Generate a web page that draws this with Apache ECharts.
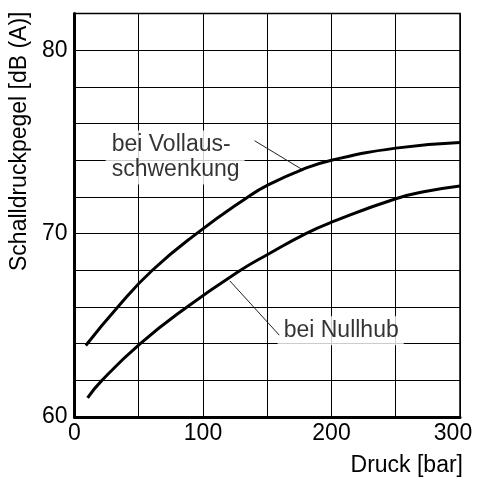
<!DOCTYPE html>
<html>
<head>
<meta charset="utf-8">
<script src="https://cdn.jsdelivr.net/npm/echarts@6/dist/echarts.min.js"></script>
<style>
  html, body { margin: 0; padding: 0; background: #fff; }
  #chart { width: 477px; height: 477px; }
</style>
</head>
<body>
<div id="chart"></div>
<script>
// Schalldruckpegel über Druck
const vollausX = [8.8, 33.7, 60.6, 95, 135, 150, 177.3, 200, 250, 300];
const vollausY = [63.9, 66, 68, 70, 72, 72.63, 73.49, 74, 74.66, 74.97];
const nullhubX = [10.2, 21, 51.2, 87.6, 129.2, 150, 180, 200, 250, 275, 300];
const nullhubY = [61.04, 61.97, 64, 66, 68, 68.85, 70, 70.62, 71.9, 72.32, 72.6];

// Beschriftungen (Datenkoordinaten)
const labelTexts = ['bei Vollaus-\nschwenkung', 'bei Nullhub'];
const labelPos = [[24.3, 74.15], [158.1, 64.7]];
const leaderVollaus = [[140.2, 75.06], [177.3, 73.49]];
const leaderNullhub = [[120.9, 67.42], [159.4, 64.46]];

const xTicks = [0, 100, 200, 300];
const yTicks = [60, 70, 80];

const font = 'Liberation Sans, Arial, Helvetica, sans-serif';
const zip = (xs, ys) => xs.map((x, i) => [x, ys[i]]);

const chart = echarts.init(document.getElementById('chart'));

const option = {
  animation: false,
  backgroundColor: '#fff',
  grid: {
    left: 69, right: 17, top: 13.5, bottom: 56,
    containLabel: false,
    show: true, borderColor: '#000', borderWidth: 1.5
  },
  xAxis: {
    type: 'value', min: 0, max: 300, interval: 50,
    name: 'Druck [bar]', nameLocation: 'end', nameGap: 3,
    nameTextStyle: { fontFamily: font, fontSize: 23, color: '#000', align: 'right', verticalAlign: 'top', padding: [37, 0, 0, 0] },
    axisLine: { lineStyle: { color: '#000', width: 3 } },
    axisTick: { show: false },
    splitLine: { lineStyle: { color: '#000', width: 1 } },
    axisLabel: {
      fontFamily: font, fontSize: 23, color: '#000', margin: 5,
      formatter: v => xTicks.includes(v) ? (v === 300 ? '{last|300}' : String(v)) : '',
      rich: { last: { fontFamily: font, fontSize: 23, color: '#000', padding: [0, 14, 0, 0] } }
    }
  },
  yAxis: {
    type: 'value', min: 60, max: 82, interval: 2,
    name: 'Schalldruckpegel [dB (A)]', nameLocation: 'middle', nameGap: 38,
    nameTextStyle: { fontFamily: font, fontSize: 23, color: '#000', padding: [0, 0, 0, 148] },
    axisLine: { lineStyle: { color: '#000', width: 3 } },
    axisTick: { show: false },
    splitLine: { lineStyle: { color: '#000', width: 1 } },
    axisLabel: {
      fontFamily: font, fontSize: 23, color: '#000', margin: 7,
      formatter: v => yTicks.includes(v) ? String(v) : ''
    }
  },
  series: [
    {
      name: 'Vollausschwenkung', type: 'line', data: zip(vollausX, vollausY),
      smooth: 0.5, symbol: 'none',
      lineStyle: { color: '#000', width: 3 }, z: 5
    },
    {
      name: 'Nullhub', type: 'line', data: zip(nullhubX, nullhubY),
      smooth: 0.5, symbol: 'none',
      lineStyle: { color: '#000', width: 3 }, z: 5
    },
    {
      type: 'line', data: leaderVollaus, symbol: 'none',
      lineStyle: { color: '#222', width: 1 }, z: 4
    },
    {
      type: 'line', data: leaderNullhub, symbol: 'none',
      lineStyle: { color: '#222', width: 1 }, z: 4
    },
    {
      type: 'scatter', symbolSize: 0, z: 3,
      data: labelPos.map((p, i) => ({ value: p, name: labelTexts[i] })),
      label: {
        show: true, position: 'right', distance: 0,
        formatter: p => p.name,
        fontFamily: font, fontSize: 23, color: '#000', lineHeight: 25,
        backgroundColor: '#fff', padding: [2, 5, 2, 6], align: 'left'
      }
    }
  ]
};

chart.setOption(option);
</script>
</body>
</html>
